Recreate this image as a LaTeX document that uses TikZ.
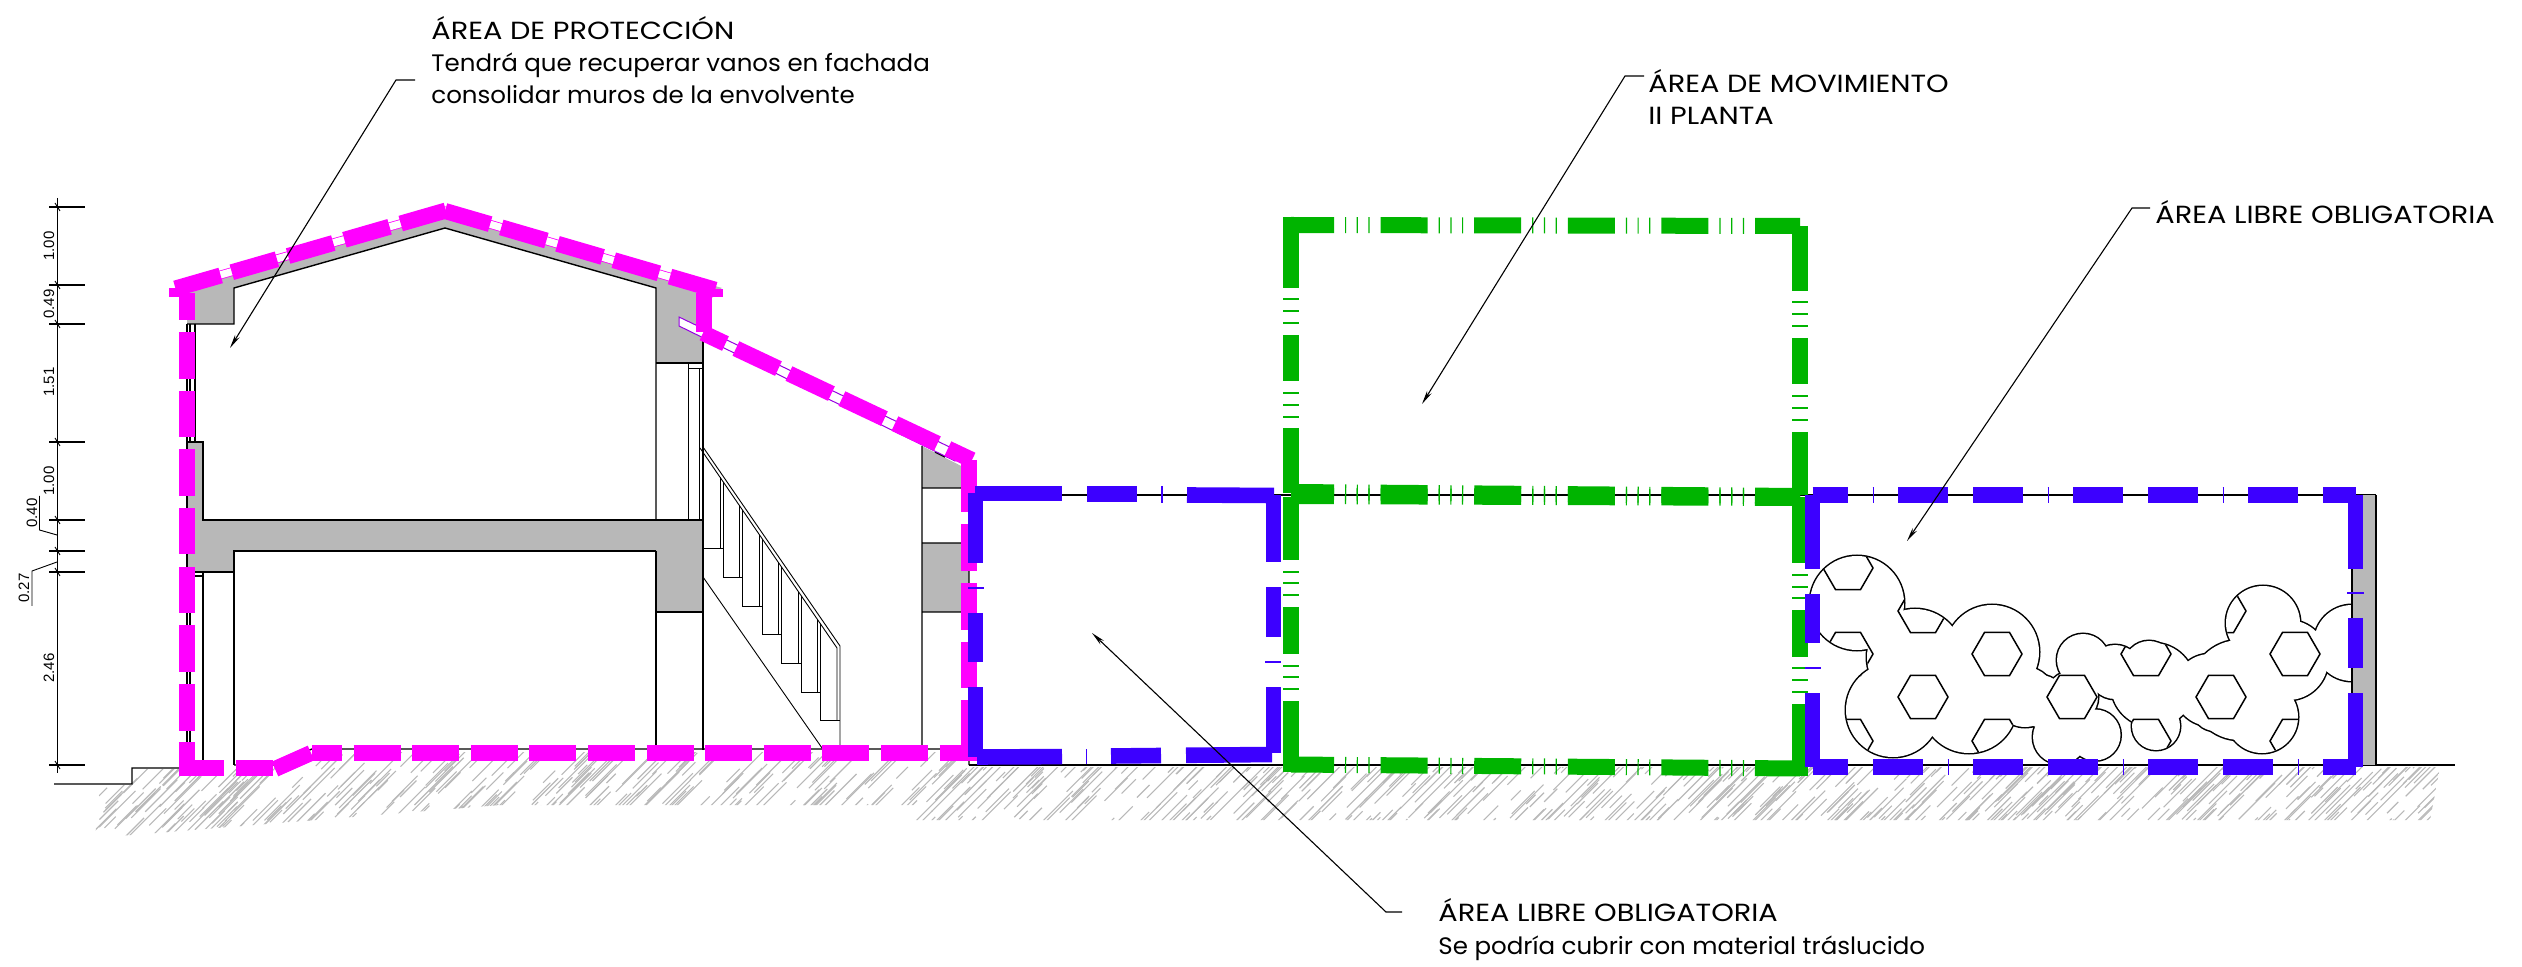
\documentclass[tikz,border=0pt]{standalone}
\usepackage{fontspec}
\setmainfont{Poppins}
\newfontfamily\rotmay[FakeStretch=1.16]{Poppins}
\newfontfamily\rotmin[FakeStretch=1.03]{Poppins}
\newfontfamily\cotas{Liberation Sans}
\usetikzlibrary{arrows.meta}
\definecolor{rosa}{RGB}{255,0,255}
\definecolor{azulz}{RGB}{60,0,255}
\definecolor{verdez}{RGB}{0,180,0}
\definecolor{gris}{RGB}{184,184,184}
\definecolor{morado}{RGB}{150,0,225}
\tikzset{
	linea/.style={black,line width=.7pt},
	fina/.style={black,line width=.45pt},
	rayado/.style={gris,line width=.55pt},
	zrosa/.style={rosa,line width=8pt},
	zrosadash/.style={zrosa,dash pattern=on 23.5pt off 5.8pt},
	zverde/.style={verdez,line width=8pt},
	zverdedash/.style={zverde,dash pattern=on 23.5pt off 5.5pt on .6pt off 5.25pt on .6pt off 5.25pt on .6pt off 5.5pt,dash phase=2pt},
	zazul/.style={azulz,line width=7.8pt},
	zazuldash/.style={zazul,dash pattern=on 25pt off 12.5pt on 25pt off 12.25pt on .5pt off 12.25pt},
	tverde/.style={verdez,line width=.6pt},
	tazul/.style={azulz,line width=.55pt},
	flecha/.style={black,line width=.55pt},
	rotulo/.style={anchor=base west,inner sep=0pt,align=left,font=\rotmin\fontsize{11.9}{16.2}\selectfont},
	cota/.style={rotate=90,inner sep=0pt,font=\cotas\fontsize{7.5}{9}\selectfont},
}
\newcommand{\may}[1]{{\rotmay\fontsize{12.4}{16.2}\selectfont #1}}
\begin{document}
\begin{tikzpicture}[x=.5pt,y=-.5pt,>={Stealth[length=7pt,width=2.6pt]},line join=miter]
	\useasboundingbox (0,0) rectangle (2522,967);
	\def\copas{1857/603/47,1915/657/48,1992/652/47,1893/710/47,1969/705/48,2025/697/30,2040/701/26,2072/697/26,2060/737/27,2095/735/25.5,2083/660/26,2115/672/27,2149/666/25,2156/726/24,2153/685/42,2240/690/50,2210/690/36,2215/708/23,2263/623/37,2262/717/36,2288/660/40,2352/643/38}
	\path
	(415,80)coordinate(P1)
	(396,80)coordinate(P2)
	(230,348)coordinate(P3)
	(1644,76)coordinate(M1)
	(1625,76)coordinate(M2)
	(1422,404)coordinate(M3)
	(2150,208)coordinate(L1)
	(2132,208)coordinate(L2)
	(1907,541)coordinate(L3)
	(1402,912)coordinate(T1)
	(1386,912)coordinate(T2)
	(1092,633)coordinate(T3)
	(57,198)coordinate(C1)
	(57,773)coordinate(C2)
	;
	% terreno
	\begin{scope}
		\clip (100,785)--(132,785)--(132,769)--(270,769)--(312,752)--(969,752)--(969,767)--(2440,767)--(2430,820)--(915,820)--(915,805)--(500,805)--(95,838)--cycle;
		\pgfmathsetseed{12}
		\foreach \i in {1,...,1100}{
			\pgfmathsetmacro\hx{90+rnd*2360}
			\pgfmathsetmacro\hy{765+rnd*85}
			\pgfmathsetmacro\hl{8+rnd*32}
			\draw[rayado] (\hx,\hy)--++(\hl,-\hl);
		}
	\end{scope}
	% muros y forjados
	\fill[gris] (187,285)--(445,208)--(722,288)--(703,300)--(703,363)--(656,363)--(656,288)--(445,228)--(234,288)--(234,324)--(187,324)--cycle;
	\fill[gris] (187,442)--(203,442)--(203,520)--(703,520)--(703,612)--(656,612)--(656,551)--(234,551)--(234,572)--(187,572)--cycle;
	\fill[gris] (922,446)--(969,470)--(969,488)--(922,488)--cycle;
	\fill[gris] (922,543)--(969,543)--(969,612)--(922,612)--cycle;
	\draw[linea] (187,324)--(234,324)--(234,288)--(445,228)--(656,288)--(656,520);
	\draw[linea] (187,324)--(187,442) (195,324)--(195,442) (190,324)--(190,442);
	\draw[linea] (187,442)--(203,442)--(203,520)--(703,520) (656,363)--(703,363);
	\draw[linea] (703,290)--(703,750);
	\draw[linea] (656,551)--(234,551)--(234,765) (656,551)--(656,748) (656,612)--(703,612);
	\draw[linea] (187,442)--(187,572)--(234,572) (187,572)--(187,765) (190,572)--(190,765) (203,572)--(203,765) (187,576)--(203,576);
	\draw[fina] (688,364)--(688,520) (699,368)--(699,520) (688,368)--(703,368);
	\draw[linea] (922,446)--(922,748) (922,488)--(969,488) (922,543)--(969,543) (922,612)--(969,612) (969,543)--(969,765) (935,452)--(945,457);
	\draw[linea] (54,784)--(132,784)--(132,768)--(187,768) (234,765)--(273,765)--(312,749)--(969,749);
	\draw[linea] (969,765)--(2455,765) (976,495)--(2376,495);
	% escalera
	\draw[fina] (703,447)--(840,646)--(840,748) (700,448)--(837,648)--(837,720);
	\draw[fina] (703,577)--(822,748);
	\foreach \x/\y/\t in {720/477/548,739/506/577,759/535/606,778/563/634,798/592/663,817/620/692}
	\draw[fina] (\x,\y)--(\x,\t);
	\foreach \x/\y/\t in {723/482/577,742/510/606,762/539/634,781/567/663,801/596/692,820/624/720}
	\draw[fina] (\x,\y)--(\x,\t)--++(19.5,0);
	\draw[fina] (703,548)--(723,548);
	% vegetacion
	\begin{scope}
		\clip (1780,500) rectangle (2352,765);
		\foreach \x/\y/\r in \copas \draw[black,line width=1.5pt] (\x,\y) circle(\r);
		\foreach \x/\y/\r in \copas \fill[white] (\x,\y) circle(\r);
	\end{scope}
	\begin{scope}
		\clip foreach \x/\y/\r in \copas {(\x,\y) circle(\r)};
		\foreach \x/\y in {1848/568,1848/654,1848/741,1923/611,1923/697,1997/654,1997/741,2072/697,2146/654,2146/741,2221/611,2221/697,2295/654,2295/741}
		\draw[black,line width=.75pt] (\x-25,\y)--++(12.5,-21.6)--++(25,0)--++(12.5,21.6)--++(-12.5,21.6)--++(-25,0)--cycle;
	\end{scope}
	\fill[gris] (2352,495) rectangle (2376,765);
	\draw[linea] (2352,495)--(2352,765) (2376,495)--(2376,765);
	% cotas
	\draw[fina] (C1)--(C2);
	\foreach \y in {207,285,324,442,520,551,572,765}{
		\draw[linea] (49,\y)--(85,\y);
		\draw[fina] (55,\y-4)--(60,\y+4);
	}
	\draw[fina] (39.5,496)--(39.5,530)--(57,535) (32,606)--(32,571)--(57,562);
	\node[cota] (c100a) at (49,246) {1.00};
	\node[cota] (c049) at (49,304) {0.49};
	\node[cota] (c151) at (49,382) {1.51};
	\node[cota] (c100b) at (49,481) {1.00};
	\node[cota] (c040) at (32,513) {0.40};
	\node[cota] (c027) at (24,588) {0.27};
	\node[cota] (c246) at (49,668) {2.46};
	% zona verde
	\draw[zverdedash] (1291,225)--(1800,226);
	\draw[zverdedash] (1291,492)--(1800,496);
	\draw[zverdedash] (1291,496)--(1800,498);
	\draw[zverdedash] (1291,764.5)--(1800,768.5);
	\foreach \a/\b in {217/288,335/381,428/493,497/560,607/654,701/772}
	\draw[zverde] (1291,\a)--(1291,\b);
	\foreach \a/\b in {226/291,338/384,432/495,497/563,610/657,704/776}
	\draw[zverde] (1800,\a)--(1800,\b);
	\foreach \t in {299,311,323,393,405,417,572,583,595,666,677,689}
	\draw[tverde] (1283,\t)--(1299,\t);
	\foreach \t in {302,314,326,396,408,420,575,587,598,668,680,692}
	\draw[tverde] (1792,\t)--(1808,\t);
	% zona rosa
	\draw[rosa,line width=.4pt,double=white,double distance=3.6pt] (178,287)--(445,211)--(714,290);
	\filldraw[fill=white,draw=morado,line width=.5pt] (679,317)--(679,326)--(955,461)--(960,452)--cycle;
	\draw[zrosadash] (175.5,288.5)--(446,210.5);
	\draw[zrosadash] (445,211)--(716,290);
	\draw[zrosadash,dash phase=11.1pt] (703,333)--(972,460);
	\fill[rosa] (169,288) rectangle (181,297);
	\fill[rosa] (712,289) rectangle (723,297);
	\draw[zrosa] (704,293)--(704,332);
	\foreach \a/\b in {293/320,332/379,391/437,449/496,508/554,567/613,625/672,684/731,742/776}
	\draw[zrosa] (187,\a)--(187,\b);
	\foreach \a/\b in {460/512,524/571,583/630,642/688,700/761}
	\draw[zrosa] (969,\a)--(969,\b);
	\foreach \a/\b in {187/224,236/273}
	\draw[zrosa] (\a,768)--(\b,768);
	\draw[zrosa] (275,769)--(311,753);
	\draw[zrosadash,dash phase=8.5pt] (312,753)--(968,753);
	% zonas azules
	\foreach \a/\b in {493/563,613/662,687/757}
	\draw[zazul] (975.5,\a)--(975.5,\b);
	\foreach \a/\b in {495/562,587/637,687/753}
	\draw[zazul] (1273.5,\a)--(1273.5,\b);
	\draw[zazul] (975,493.5)--(1062,493.5);
	\draw[zazul] (1087,494)--(1137,494);
	\draw[zazul] (1187,495)--(1274,495.5);
	\draw[zazul] (977,757)--(1062,756.6);
	\draw[zazul] (1111,756)--(1161,755.5);
	\draw[zazul] (1186,755.3)--(1272,754.5);
	\draw[tazul] (1162,486)--(1162,503) (1086.5,749)--(1086.5,764) (968,588)--(984,588) (1265,662)--(1281,662);
	\draw[zazuldash,dash phase=44.75pt] (1812.5,495)--(2356,495);
	\draw[zazuldash,dash phase=7.25pt] (1812.5,767)--(2356,767);
	\foreach \a/\b in {495/569,594/643,693/767}
	\draw[zazul] (1812.5,\a)--(1812.5,\b);
	\foreach \a/\b in {495/569,618/668,693/767}
	\draw[zazul] (2355.5,\a)--(2355.5,\b);
	\draw[tazul] (1805,668)--(1821,668) (2347,593)--(2364,593);
	% rotulos
	\draw[flecha,->] (P1)--(P2)--(P3);
	\draw[flecha,->] (M1)--(M2)--(M3);
	\draw[flecha,->] (L1)--(L2)--(L3);
	\draw[flecha,->] (T1)--(T2)--(T3);
	\node[rotulo] (proteccion) at (431,104) {\may{ÁREA DE PROTECCIÓN}\\Tendrá que recuperar vanos en fachada\\consolidar muros de la envolvente};
	\node[rotulo] (movimiento) at (1648,125) {\may{ÁREA DE MOVIMIENTO}\\\may{II PLANTA}};
	\node[rotulo] (libreb) at (2155,224) {\may{ÁREA LIBRE OBLIGATORIA}};
	\node[rotulo] (librea) at (1438,954) {\may{ÁREA LIBRE OBLIGATORIA}\\Se podría cubrir con material tráslucido};
\end{tikzpicture}
\end{document}
